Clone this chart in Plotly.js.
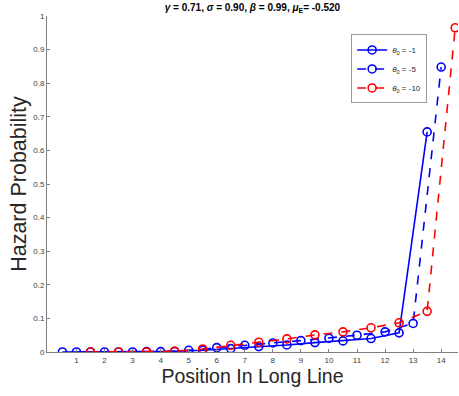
<!DOCTYPE html>
<html>
<head>
<meta charset="utf-8">
<script src="https://cdn.plot.ly/plotly-3.0.1.min.js"></script>
<style>html,body{margin:0;padding:0;background:#fff}#chart{width:459px;height:396px}</style>
</head>
<body>
<div id="chart"></div>
<script>
// Positions
var posA = [0.5,1.5,2.5,3.5,4.5,5.5,6.5,7.5,8.5,9.5,10.5,11.5,12.5,13.5];
var posB = [1,2,3,4,5,6,7,8,9,10,11,12,13,14];
var posC = [1.5,2.5,3.5,4.5,5.5,6.5,7.5,8.5,9.5,10.5,11.5,12.5,13.5,14.5];
// Hazard probabilities
var hazA = [0.000,0.000,0.000,0.001,0.002,0.005,0.010,0.016,0.021,0.028,0.033,0.040,0.057,0.655];
var hazB = [0.000,0.000,0.000,0.001,0.005,0.013,0.020,0.027,0.034,0.041,0.050,0.060,0.085,0.848];
var hazC = [0.000,0.000,0.000,0.002,0.009,0.020,0.029,0.039,0.051,0.060,0.072,0.087,0.121,0.965];
var names = ['<i>θ</i><sub>0</sub> = -1','<i>θ</i><sub>0</sub> = -5','<i>θ</i><sub>0</sub> = -10'];
var xTicks = [1,2,3,4,5,6,7,8,9,10,11,12,13,14];
var yTicks = [0,0.1,0.2,0.3,0.4,0.5,0.6,0.7,0.8,0.9,1];
var yTickText = ['0','0.1','0.2','0.3','0.4','0.5','0.6','0.7','0.8','0.9','1'];

function tr(x, y, name, color, dash) {
  return {x: x, y: y, name: name, type: 'scatter', mode: 'lines+markers',
    line: {color: color, width: 1.6, dash: dash},
    marker: {symbol: 'circle-open', size: 8, color: color, line: {width: 1.6, color: color}}};
}
var data = [
  tr(posA, hazA, names[0], '#0000ff', 'solid'),
  tr(posB, hazB, names[1], '#0000ff', 'dash'),
  tr(posC, hazC, names[2], '#ff0000', 'dash')
];
var layout = {
  width: 459, height: 396,
  margin: {l: 47, r: 1, t: 16, b: 44},
  paper_bgcolor: '#fff', plot_bgcolor: '#fff',
  font: {family: 'Liberation Sans, Arial, sans-serif', color: '#404040'},
  title: {text: '<b><i>γ</i> = 0.71, <i>σ</i> = 0.90, <i>β</i> = 0.99, <i>μ</i><sub>E</sub>= -0.520</b>',
    font: {size: 10, color: '#000'}, x: 0.55, xanchor: 'center', y: 0.982, yanchor: 'middle', yref: 'container'},
  xaxis: {range: [-0.05, 14.6], tickvals: xTicks, ticktext: xTicks.map(String), showgrid: false, zeroline: false,
    showline: true, linecolor: '#808080', linewidth: 1, ticks: 'inside', ticklen: 3, tickcolor: '#808080',
    tickfont: {size: 8, color: '#404040'},
    title: {text: 'Position In Long Line', font: {size: 19.5, color: '#262626'}, standoff: 5}},
  yaxis: {range: [0, 1], tickvals: yTicks, ticktext: yTickText, showgrid: false, zeroline: false,
    showline: true, linecolor: '#808080', linewidth: 1, ticks: 'inside', ticklen: 3, tickcolor: '#808080',
    tickfont: {size: 8, color: '#404040'},
    title: {text: 'Hazard Probability', font: {size: 21.5, color: '#262626'}, standoff: 0}},
  legend: {x: 0.74, y: 0.945, xanchor: 'left', yanchor: 'top', bgcolor: '#fff', bordercolor: '#999', borderwidth: 1,
    font: {size: 8, color: '#262626'}, itemwidth: 30, tracegroupgap: 0},
  showlegend: true
};
Plotly.newPlot('chart', data, layout, {displayModeBar: false, staticPlot: true});
</script>
</body>
</html>
